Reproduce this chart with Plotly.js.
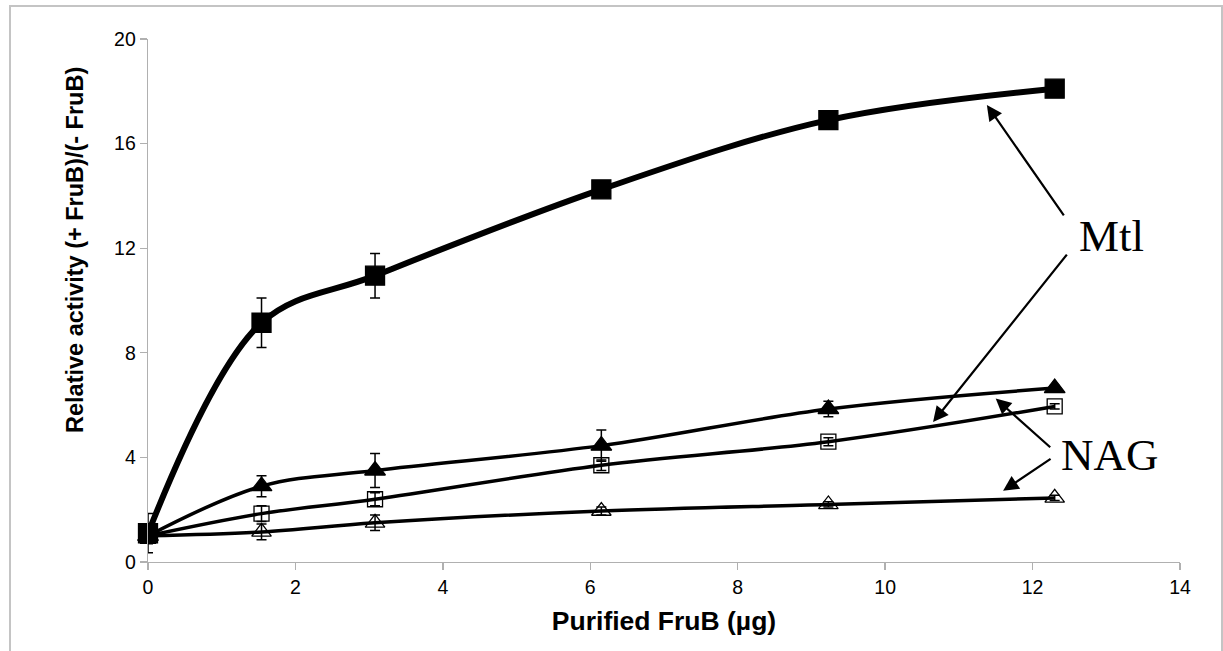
<!DOCTYPE html>
<html>
<head>
<meta charset="utf-8">
<script src="https://cdn.plot.ly/plotly-3.0.1.min.js"></script>
<style>
html,body{margin:0;padding:0;background:#fff;}
#wrap{position:relative;width:1223px;height:651px;}
#chart{position:absolute;left:0;top:0;width:1223px;height:651px;}
#frame{position:absolute;left:9px;top:5px;width:1210px;height:660px;border-left:2px solid #c4c4c4;border-top:2px solid #c4c4c4;border-right:2px solid #c4c4c4;pointer-events:none;}
</style>
</head>
<body>
<div id="wrap"><div id="chart"></div><div id="frame"></div></div>
<script>
// Amount of purified FruB (µg)
const fruB = [0, 1.54, 3.08, 6.15, 9.23, 12.3];

// Mtl, filled squares
const mtlSquare = [1.1, 9.15, 10.95, 14.25, 16.9, 18.1];
const mtlSquareErr = [0.75, 0.95, 0.85, 0.15, 0.2, 0.15];

// Filled triangles
const filledTriangle = [1.0, 2.9, 3.5, 4.45, 5.85, 6.65];
const filledTriangleErr = [0.3, 0.4, 0.65, 0.6, 0.3, 0.1];

// Open squares
const openSquare = [1.0, 1.85, 2.4, 3.7, 4.6, 5.95];
const openSquareErr = [0.2, 0.3, 0.25, 0.2, 0.15, 0.1];

// Open triangles
const openTriangle = [1.0, 1.15, 1.5, 1.95, 2.2, 2.45];
const openTriangleErr = [0.2, 0.3, 0.3, 0.15, 0.1, 0.1];

// Axis titles and labels
const xTitle = 'Purified FruB (µg)';
const yTitle = 'Relative activity (+ FruB)/(- FruB)';
const labelMtl = 'Mtl';
const labelNAG = 'NAG';

function series(y, err, symbol, size, lineWidth, fillColor) {
  return {
    x: fruB, y: y, type: 'scatter', mode: 'lines+markers',
    line: {color: '#000', width: lineWidth, shape: 'spline', smoothing: 1},
    marker: {symbol: symbol, size: size, color: fillColor, line: {color: '#000', width: 1.3}},
    error_y: {type: 'data', array: err, visible: true, color: '#000', thickness: 1.5, width: 5},
    cliponaxis: false, showlegend: false
  };
}

const data = [
  series(openTriangle, openTriangleErr, 'triangle-up-open', 17, 3.5, '#000'),
  series(openSquare, openSquareErr, 'square-open', 15, 3.5, '#000'),
  series(filledTriangle, filledTriangleErr, 'triangle-up', 18, 3.5, '#000'),
  series(mtlSquare, mtlSquareErr, 'square', 19, 6, '#000')
];

const tickFont = {family: 'Liberation Sans, Arial, sans-serif', size: 19.5, color: '#000'};
const serif = {family: 'Liberation Serif, Times New Roman, serif', size: 45, color: '#000'};

const arrow = {showarrow: true, arrowhead: 2, arrowsize: 1.4, arrowwidth: 2.2, arrowcolor: '#000',
  axref: 'pixel', ayref: 'pixel', text: ''};

// plot area in pixels (used to place free text in paper coordinates)
const L = 148, R = 1180, T = 39, B = 562;
const px = v => (v - L) / (R - L);
const py = v => (B - v) / (B - T);

const layout = {
  width: 1223, height: 651,
  margin: {l: L, r: 1223 - R, t: T, b: 651 - B},
  paper_bgcolor: '#fff', plot_bgcolor: '#fff',
  xaxis: {
    range: [0, 14], dtick: 2, tick0: 0, showgrid: false, zeroline: false,
    showline: true, linecolor: '#b0b0b0', linewidth: 1.3,
    ticks: 'outside', ticklen: 7, tickcolor: '#b0b0b0', tickwidth: 1.3,
    tickfont: tickFont,
    title: {text: xTitle, font: {family: 'Liberation Sans, Arial, sans-serif', size: 26.5, color: '#000', weight: 'bold'}, standoff: 14}
  },
  yaxis: {
    range: [0, 20], dtick: 4, tick0: 0, showgrid: false, zeroline: false,
    showline: true, linecolor: '#b0b0b0', linewidth: 1.3,
    ticks: 'outside', ticklen: 7, tickcolor: '#b0b0b0', tickwidth: 1.3,
    tickfont: tickFont
  },
  annotations: [
    {x: px(75), y: py(250), xref: 'paper', yref: 'paper', text: yTitle, textangle: -90,
     showarrow: false, xanchor: 'center', yanchor: 'middle',
     font: {family: 'Liberation Sans, Arial, sans-serif', size: 23.5, color: '#000', weight: 'bold'}},
    {x: px(1077), y: py(236), xref: 'paper', yref: 'paper', text: labelMtl, showarrow: false,
     font: serif, xanchor: 'left', yanchor: 'middle'},
    {x: px(1059), y: py(455), xref: 'paper', yref: 'paper', text: labelNAG, showarrow: false,
     font: serif, xanchor: 'left', yanchor: 'middle'},
    Object.assign({x: 11.38, y: 17.48, xref: 'x', yref: 'y', ax: 78, ay: 112}, arrow),
    Object.assign({x: 10.65, y: 5.35, xref: 'x', yref: 'y', ax: 135, ay: -169}, arrow),
    Object.assign({x: 11.5, y: 6.25, xref: 'x', yref: 'y', ax: 56, ay: 50}, arrow),
    Object.assign({x: 11.6, y: 2.72, xref: 'x', yref: 'y', ax: 49, ay: -33}, arrow)
  ]
};

Plotly.newPlot('chart', data, layout, {displayModeBar: false, staticPlot: true});
</script>
</body>
</html>
